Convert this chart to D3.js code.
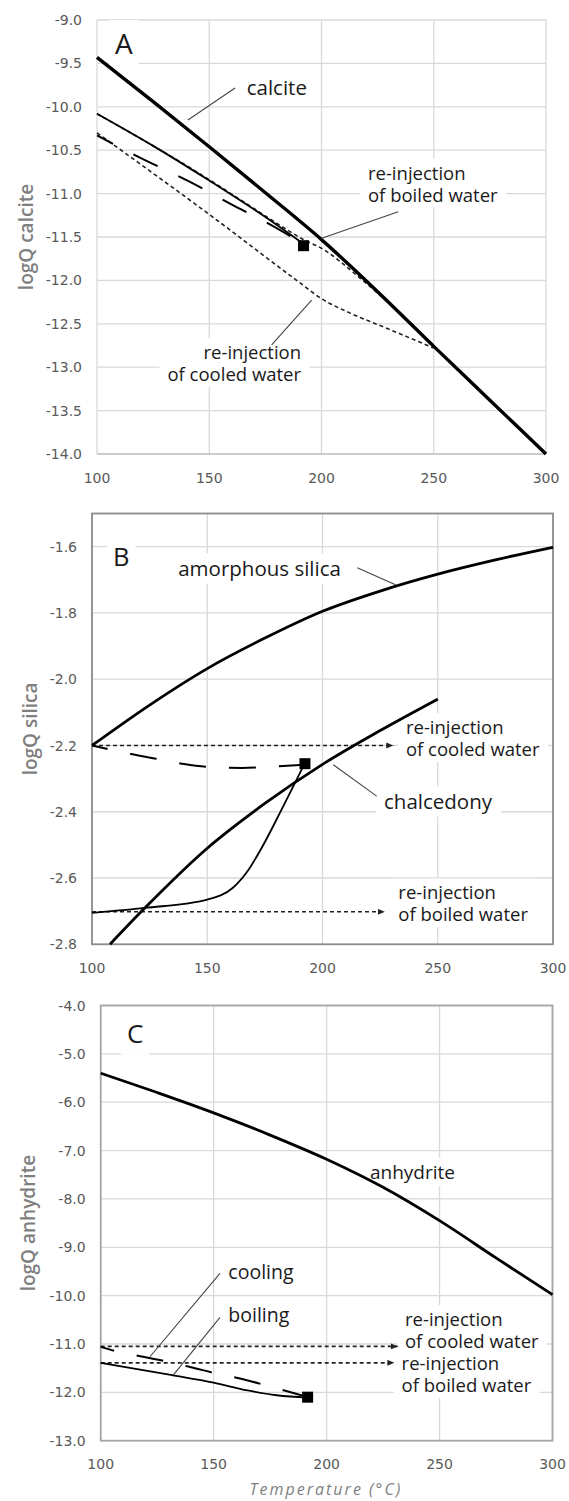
<!DOCTYPE html>
<html>
<head>
<meta charset="utf-8">
<script src="https://cdn.jsdelivr.net/npm/d3@7"></script>
<style>
  body { margin: 0; background: #fff; }
  svg { display: block; }
  .tick-label { font-family: "DejaVu Sans", sans-serif; font-size: 14px; fill: #595959; }
  .axis-title { font-family: "Open Sans", sans-serif; font-size: 19px; font-weight: 600; fill: #7f7f7f; }
  .x-title { font-family: "Open Sans", sans-serif; font-size: 16px; font-style: italic; letter-spacing: 2px; fill: #7f7f7f; }
  .note, .panel-letter { font-family: "Open Sans", sans-serif; fill: #1a1a1a; }
</style>
</head>
<body>
<svg id="chart" width="569" height="1501"></svg>
<script>
// shared temperature axis (°C)
const tempTicks = [100, 150, 200, 250, 300];

// A - calcite
const calciteTicks = [-9.0, -9.5, -10.0, -10.5, -11.0, -11.5, -12.0, -12.5, -13.0, -13.5, -14.0];
const calciteTemp = [100, 125, 150, 175, 200, 225, 250, 275, 300];
const calciteLogK = [-9.43, -9.94, -10.46, -10.99, -11.53, -12.13, -12.76, -13.38, -14.0];
const calciteBoiling = [[100, -10.08], [125, -10.45], [150, -10.85], [175, -11.27], [192, -11.58]];
const calciteCooling = [[100, -10.33], [118, -10.57], [141, -10.86], [164, -11.18], [176, -11.34], [192, -11.58]];
const calciteReinjCooled = [[100, -10.30], [150, -11.24], [190, -12.02], [200, -12.21], [213, -12.38], [228, -12.54], [250, -12.78]];
const calciteReinjBoiled = [[100, -10.08], [150, -10.84], [165, -11.09], [180, -11.34], [192, -11.53], [200, -11.63], [217, -11.97], [235, -12.38], [250, -12.75]];
const calciteStart = [[192, -11.6]];

// B - silica
const silicaTicks = [-1.6, -1.8, -2.0, -2.2, -2.4, -2.6, -2.8];
const amorphousTemp = [100, 125, 150, 175, 200, 225, 250, 275, 300];
const amorphousLogK = [-2.2, -2.078, -1.968, -1.876, -1.795, -1.734, -1.683, -1.64, -1.602];
const chalcedony = [[107.8, -2.8], [123, -2.69], [150, -2.51], [175, -2.375], [200, -2.257], [225, -2.155], [250, -2.06]];
const silicaBoiling = [[100, -2.705], [123, -2.69], [150, -2.665], [161, -2.63], [168, -2.574], [174, -2.504], [183, -2.383], [189, -2.30], [192, -2.258]];
const silicaCooling = [[100, -2.2], [117, -2.226], [130, -2.243], [140, -2.256], [153, -2.266], [165, -2.268], [175, -2.265], [192, -2.258]];
const silicaReinjCooled = [[100, -2.2], [230.7, -2.2]];
const silicaReinjBoiled = [[100, -2.702], [227, -2.702]];
const silicaStart = [[192.4, -2.255]];

// C - anhydrite
const anhydriteTicks = [-4.0, -5.0, -6.0, -7.0, -8.0, -9.0, -10.0, -11.0, -12.0, -13.0];
const anhydriteTemp = [100, 125, 150, 175, 200, 225, 250, 275, 300];
const anhydriteLogK = [-5.40, -5.80, -6.22, -6.68, -7.18, -7.76, -8.45, -9.22, -9.98];
const anhydriteBoiling = [[100, -11.39], [131, -11.64], [150, -11.80], [165, -11.96], [178, -12.06], [192, -12.11]];
const anhydriteCooling = [[100, -11.06], [106, -11.14], [117, -11.25], [130, -11.37], [140, -11.48], [152, -11.62], [163, -11.73], [175, -11.88], [192, -12.1]];
const anhydriteReinjCooled = [[100, -11.05], [231.5, -11.05]];
const anhydriteReinjBoiled = [[100, -11.39], [230, -11.39]];
const anhydriteStart = [[191.6, -12.1]];

const zip = (t, v) => t.map((d, i) => [d, v[i]]);

const svg = d3.select("#chart");

// small filled arrow head for the re-injection lines
svg.append("defs").append("marker")
    .attr("id", "arrow")
    .attr("markerUnits", "userSpaceOnUse")
    .attr("markerWidth", 8).attr("markerHeight", 8)
    .attr("refX", 7).attr("refY", 3)
    .attr("orient", "auto")
  .append("path")
    .attr("d", "M0,0 L7,3 L0,6 Z")
    .attr("fill", "#222");

const styles = {
  thick:    {w: 3.4, dash: null},
  mid:      {w: 2.8, dash: null},
  thin:     {w: 1.8, dash: null},
  longdash: {w: 2.0, dash: "27 23"},
  dotted:   {w: 1.6, dash: "4 3"}
};

const panels = [
  {
    left: 97, right: 546, top: 20, bottom: 454, yDomain: [-14, -9], yTicks: calciteTicks,
    frame: null, title: "logQ calcite", titleX: 26, letter: "A", letterAt: [108, -9.392], letterSize: 28,
    dashOffset: 9,
    series: [
      {data: calciteReinjCooled, style: "dotted"},
      {data: calciteReinjBoiled, style: "dotted"},
      {data: calciteCooling, style: "longdash"},
      {data: calciteBoiling, style: "thin"},
      {data: zip(calciteTemp, calciteLogK), style: "thick"}
    ],
    start: calciteStart,
    leaders: [[161.5, -9.783, 140.5, -10.152], [234.2, -11.209, 200.1, -11.515], [177.8, -12.744, 195.6, -12.226]],
    notes: [
      {lines: ["calcite"], at: [166.7, -9.864], size: 20.5, lh: 0, anchor: "start"},
      {lines: ["re-injection", "of boiled water"], at: [220.7, -10.838], size: 18.5, lh: 22, anchor: "start"},
      {lines: ["re-injection", "of cooled water"], at: [190.9, -12.906], size: 18.5, lh: 22, anchor: "end"}
    ]
  },
  {
    left: 92, right: 553, top: 513.5, bottom: 944.3, yDomain: [-2.8, -1.5], yTicks: silicaTicks,
    frame: "#8c8c8c", title: "logQ silica", titleX: 30, letter: "B", letterAt: [109.1, -1.659], letterSize: 25.5,
    dashOffset: 11,
    series: [
      {data: silicaReinjCooled, style: "dotted", arrow: true},
      {data: silicaReinjBoiled, style: "dotted", arrow: true},
      {data: silicaCooling, style: "longdash"},
      {data: silicaBoiling, style: "thin"},
      {data: zip(amorphousTemp, amorphousLogK), style: "mid"},
      {data: chalcedony, style: "mid"}
    ],
    start: silicaStart,
    leaders: [[215.1, -1.664, 231.7, -1.715], [223.5, -2.353, 204.7, -2.258]],
    notes: [
      {lines: ["amorphous silica"], at: [137.4, -1.690], size: 20.5, lh: 0, anchor: "start"},
      {lines: ["re-injection", "of cooled water"], at: [236.2, -2.1655], size: 18.5, lh: 22, anchor: "start"},
      {lines: ["chalcedony"], at: [226.7, -2.393], size: 20.5, lh: 0, anchor: "start"},
      {lines: ["re-injection", "of boiled water"], at: [232.9, -2.6648], size: 18.5, lh: 22, anchor: "start"}
    ]
  },
  {
    left: 100.7, right: 552.5, top: 1005.5, bottom: 1440.7, yDomain: [-13, -4], yTicks: anhydriteTicks,
    frame: "#a6a6a6", title: "logQ anhydrite", titleX: 28, letter: "C", letterAt: [111.6, -4.771], letterSize: 26,
    dashOffset: 13,
    series: [
      {data: anhydriteReinjCooled, style: "dotted", arrow: true},
      {data: anhydriteReinjBoiled, style: "dotted", arrow: true},
      {data: anhydriteCooling, style: "longdash"},
      {data: anhydriteBoiling, style: "thin"},
      {data: zip(anhydriteTemp, anhydriteLogK), style: "mid"}
    ],
    start: anhydriteStart,
    leaders: [[152.8, -9.539, 121.8, -11.264], [152.8, -10.449, 132.1, -11.642]],
    notes: [
      {lines: ["anhydrite"], at: [219.2, -7.588], size: 19, lh: 0, anchor: "start"},
      {lines: ["cooling"], at: [156.5, -9.663], size: 19.5, lh: 0, anchor: "start"},
      {lines: ["boiling"], at: [156.5, -10.540], size: 19.5, lh: 0, anchor: "start"},
      {lines: ["re-injection", "of cooled water"], at: [234.7, -10.630], size: 18.5, lh: 22, anchor: "start"},
      {lines: ["re-injection", "of boiled water"], at: [233.2, -11.539], size: 18.5, lh: 22, anchor: "start"}
    ]
  }
];

panels.forEach(drawPanel);

// temperature title under the last panel
svg.append("text")
    .attr("class", "x-title")
    .attr("x", 326).attr("y", 1495)
    .attr("text-anchor", "middle")
    .text("Temperature (°C)");

function drawPanel(p) {
  const x = d3.scaleLinear().domain([100, 300]).range([p.left, p.right]);
  const y = d3.scaleLinear().domain(p.yDomain).range([p.bottom, p.top]);

  const g = svg.append("g");
  const grid = g.append("g");
  const boxes = g.append("g");
  const marks = g.append("g");
  const notes = g.append("g");

  // gridlines
  grid.selectAll("line.hgrid").data(p.yTicks).join("line")
      .attr("class", "hgrid")
      .attr("x1", p.left).attr("x2", p.right)
      .attr("y1", d => y(d)).attr("y2", d => y(d))
      .attr("stroke", "#d9d9d9").attr("stroke-width", 1.3);
  grid.selectAll("line.vgrid").data(tempTicks).join("line")
      .attr("class", "vgrid")
      .attr("x1", d => x(d)).attr("x2", d => x(d))
      .attr("y1", p.top).attr("y2", p.bottom)
      .attr("stroke", "#d9d9d9").attr("stroke-width", 1.3);

  if (p.frame) {
    grid.append("rect")
        .attr("x", p.left).attr("y", p.top)
        .attr("width", p.right - p.left).attr("height", p.bottom - p.top)
        .attr("fill", "none").attr("stroke", p.frame).attr("stroke-width", 1.8);
  } else {
    grid.append("line")
        .attr("x1", p.left).attr("x2", p.right)
        .attr("y1", p.bottom).attr("y2", p.bottom)
        .attr("stroke", "#c4c4c4").attr("stroke-width", 1.6);
  }

  // tick labels
  grid.selectAll("text.ylab").data(p.yTicks).join("text")
      .attr("class", "ylab tick-label")
      .attr("x", p.left - 15).attr("y", d => y(d))
      .attr("dy", "0.36em").attr("text-anchor", "end")
      .text(d => d.toFixed(1));
  grid.selectAll("text.xlab").data(tempTicks).join("text")
      .attr("class", "xlab tick-label")
      .attr("x", d => x(d)).attr("y", p.bottom + 28.5)
      .attr("text-anchor", "middle")
      .text(d => d);

  // y title
  const cy = (p.top + p.bottom) / 2;
  grid.append("text")
      .attr("class", "axis-title")
      .attr("transform", `translate(${p.titleX},${cy}) rotate(-90)`)
      .attr("text-anchor", "middle").attr("dy", "0.35em")
      .text(p.title);

  // curves
  const line = d3.line()
      .x(d => x(d[0])).y(d => y(d[1]))
      .curve(d3.curveMonotoneX);

  p.series.forEach(s => {
    const st = styles[s.style];
    const path = marks.append("path")
        .datum(s.data)
        .attr("d", line)
        .attr("fill", "none")
        .attr("stroke", s.style === "dotted" ? "#222" : "#000")
        .attr("stroke-width", st.w);
    if (st.dash) path.attr("stroke-dasharray", st.dash);
    if (s.style === "longdash") path.attr("stroke-dashoffset", p.dashOffset);
    if (s.arrow) path.attr("marker-end", "url(#arrow)");
  });

  // starting fluid
  marks.selectAll("rect.start").data(p.start).join("rect")
      .attr("class", "start")
      .attr("x", d => x(d[0]) - 5.5).attr("y", d => y(d[1]) - 5.5)
      .attr("width", 11).attr("height", 11)
      .attr("fill", "#000");

  // leader lines
  marks.selectAll("line.leader").data(p.leaders).join("line")
      .attr("class", "leader")
      .attr("x1", d => x(d[0])).attr("y1", d => y(d[1]))
      .attr("x2", d => x(d[2])).attr("y2", d => y(d[3]))
      .attr("stroke", "#444").attr("stroke-width", 1.1);

  // panel letter
  const letter = notes.append("text")
      .attr("class", "panel-letter")
      .attr("x", x(p.letterAt[0])).attr("y", y(p.letterAt[1]))
      .style("font-size", p.letterSize + "px")
      .text(p.letter);
  addBox(letter, 6, 4);

  // annotation texts, on white boxes that hide the gridlines
  p.notes.forEach(n => {
    const t = notes.append("text")
        .attr("class", "note")
        .attr("x", x(n.at[0])).attr("y", y(n.at[1]))
        .attr("text-anchor", n.anchor)
        .style("font-size", n.size + "px");
    t.selectAll("tspan").data(n.lines).join("tspan")
        .attr("x", x(n.at[0]))
        .attr("dy", (d, i) => i === 0 ? 0 : n.lh)
        .text(d => d);
    addBox(t, 8, 1);
  });

  function addBox(sel, px, py) {
    const b = sel.node().getBBox();
    boxes.append("rect")
        .attr("x", b.x - px).attr("y", b.y - py)
        .attr("width", b.width + 2 * px).attr("height", b.height + 2 * py)
        .attr("fill", "#fff");
  }
}
</script>
</body>
</html>
